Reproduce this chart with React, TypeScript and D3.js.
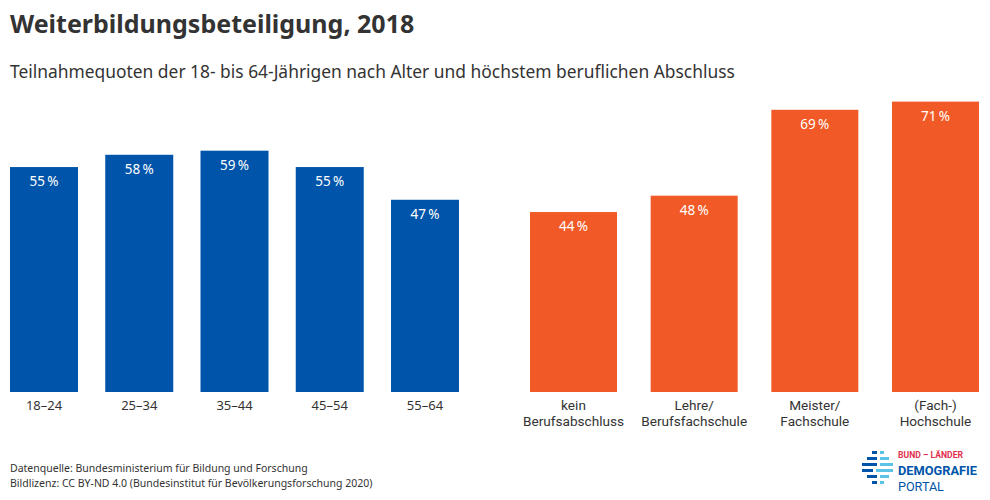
import React from "react";
import * as d3 from "d3";

const ageCategories = ["18–24", "25–34", "35–44", "45–54", "55–64"];
const ageValues = [55, 58, 59, 55, 47];
const eduCategories = [
  ["kein", "Berufsabschluss"],
  ["Lehre/", "Berufsfachschule"],
  ["Meister/", "Fachschule"],
  ["(Fach-)", "Hochschule"],
];
const eduValues = [44, 48, 69, 71];

const W = 990;
const H = 500;
const BLUE = "#0055AA";
const ORANGE = "#F15A26";
const TEXT = "#333333";
const FONT = "'Noto Sans', 'Open Sans', sans-serif";
const FONT2 = "Roboto, 'Noto Sans', sans-serif";

// logo stripes: [x, y, w, color]
const logoStripes: [number, number, number, string][] = [
  [872, 451, 5, "#0055AA"], [880, 451, 4, "#5BC4E6"],
  [867, 457, 10, "#0055AA"], [880, 457, 9, "#5BC4E6"],
  [862, 463, 15, "#0055AA"], [880, 463, 13, "#5BC4E6"],
  [862, 469, 11, "#0055AA"], [876, 469, 17, "#5BC4E6"],
  [867, 475, 10, "#0055AA"], [880, 475, 9, "#5BC4E6"],
  [872, 481, 5, "#0055AA"], [880, 481, 4, "#5BC4E6"],
];

export default function App() {
  const baseY = 392;
  const y = d3.scaleLinear().domain([0, 100]).range([baseY, baseY - 409]);

  const xAge = d3
    .scaleBand<string>()
    .domain(ageCategories)
    .range([10, 459])
    .paddingInner(0.286)
    .paddingOuter(0);
  const eduKeys = eduCategories.map((c) => c.join(" "));
  const xEdu = d3
    .scaleBand<string>()
    .domain(eduKeys)
    .range([530, 979])
    .paddingInner(0.279)
    .paddingOuter(0);

  return (
    <svg width={W} height={H} style={{ display: "block", position: "absolute", left: 0, top: 0 }} fontFamily={FONT}>
      <rect width={W} height={H} fill="#fff" />
      <text x={10} y={33} fontSize={25} fontWeight={700} fill={TEXT}>
        Weiterbildungsbeteiligung, 2018
      </text>
      <text x={10} y={78} fontSize={17.4} fill={TEXT}>
        Teilnahmequoten der 18- bis 64-Jährigen nach Alter und höchstem beruflichen Abschluss
      </text>

      {ageCategories.map((c, i) => {
        const x0 = xAge(c) as number;
        const cx = x0 + xAge.bandwidth() / 2;
        return (
          <g key={c}>
            <rect x={x0} y={y(ageValues[i])} width={xAge.bandwidth()} height={baseY - y(ageValues[i])} fill={BLUE} />
            <text x={cx} y={y(ageValues[i]) + 19} fontSize={13.5} fill="#fff" textAnchor="middle">
              {ageValues[i]}{"\u2009"}%
            </text>
            <text x={cx} y={410} fontSize={13} fill={TEXT} textAnchor="middle">
              {c}
            </text>
          </g>
        );
      })}

      {eduKeys.map((k, i) => {
        const x0 = xEdu(k) as number;
        const cx = x0 + xEdu.bandwidth() / 2;
        return (
          <g key={k}>
            <rect x={x0} y={y(eduValues[i])} width={xEdu.bandwidth()} height={baseY - y(eduValues[i])} fill={ORANGE} />
            <text x={cx} y={y(eduValues[i]) + 19} fontSize={13.5} fill="#fff" textAnchor="middle">
              {eduValues[i]}{"\u2009"}%
            </text>
            <text x={cx} y={410} fontSize={13.6} fontFamily={FONT2} fill={TEXT} textAnchor="middle">
              {eduCategories[i][0]}
            </text>
            <text x={cx} y={426} fontSize={13.6} fontFamily={FONT2} fill={TEXT} textAnchor="middle">
              {eduCategories[i][1]}
            </text>
          </g>
        );
      })}

      <text x={10} y={472} fontSize={10.5} fill={TEXT}>
        Datenquelle: Bundesministerium für Bildung und Forschung
      </text>
      <text x={10} y={487} fontSize={10.5} fill={TEXT}>
        Bildlizenz: CC BY-ND 4.0 (Bundesinstitut für Bevölkerungsforschung 2020)
      </text>

      {logoStripes.map(([x, yy, w, col], i) => (
        <rect key={i} x={x} y={yy} width={w} height={3} fill={col} />
      ))}
      <g fontFamily={FONT2} fill="#0055AA">
        <text x={898} y={458} fontSize={8.6} fontWeight={700} fill="#E2304F">BUND – LÄNDER</text>
        <text x={898} y={474.5} fontSize={12.8} fontWeight={700}>DEMOGRAFIE</text>
        <text x={898} y={490.5} fontSize={12.6}>PORTAL</text>
      </g>
    </svg>
  );
}
